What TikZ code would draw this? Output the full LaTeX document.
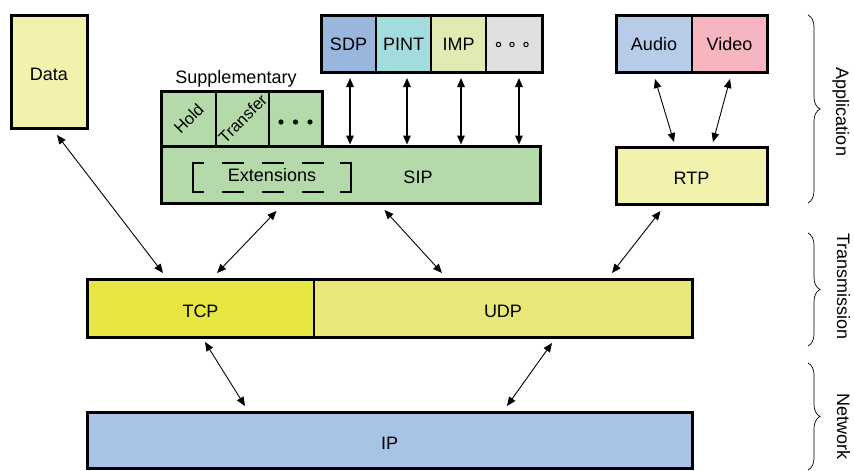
\documentclass[tikz,border=0pt]{standalone}
\usepackage{fontspec}
\setmainfont{Liberation Sans}
\usetikzlibrary{calc,arrows.meta,decorations.pathreplacing}
\definecolor{cData}{HTML}{F2F2AC}
\definecolor{cGreen}{HTML}{B4DAAA}
\definecolor{cSDP}{HTML}{99B6DD}
\definecolor{cPINT}{HTML}{A2DCDC}
\definecolor{cIMP}{HTML}{E0EAB2}
\definecolor{cGrey}{HTML}{E0E0E0}
\definecolor{cAudio}{HTML}{B7CCE8}
\definecolor{cVideo}{HTML}{F7B5C0}
\definecolor{cTCP}{HTML}{E8E642}
\definecolor{cUDP}{HTML}{E8E87A}
\definecolor{cIP}{HTML}{A7C3E5}
\begin{document}
\begin{tikzpicture}[x=1pt,y=-1pt,
  every node/.style={font=\fontsize{18}{21}\selectfont, inner sep=0pt, outer sep=0pt, text height=18pt, text depth=0pt},
  box/.style={draw, line width=3pt},
  cell/.style={draw, line width=1.5pt},
  topcell/.style={cell, text height=14pt},
  frame/.style={draw, line width=3pt},
  rot/.style={rotate=45, font=\fontsize{16.5}{19}\selectfont, text height=16.5pt},
  arr/.style={{Triangle[length=9pt,width=7.5pt]}-{Triangle[length=9pt,width=7.5pt]}, line width=0.9pt},
  varr/.style={arr, line width=1.4pt},
  brc/.style={decorate, decoration={brace, amplitude=12pt}, line width=0.7pt},
  side/.style={rotate=-90}
]
\useasboundingbox (0,0) rectangle (854,471);

% Data
\node[box, fill=cData, minimum width=76pt, minimum height=113pt] (Data) at (49,71.5) {Data};

% Supplementary
\node (supp) at (236,74.5) {Supplementary};
\node[cell, fill=cGreen, minimum width=55pt, minimum height=55pt] (Hold) at (188.5,118.5) {};
\node[cell, fill=cGreen, minimum width=53pt, minimum height=55pt] (Transfer) at (242.5,118.5) {};
\node[cell, fill=cGreen, minimum width=53pt, minimum height=55pt] (Sdots) at (295.5,118.5) {};
\draw[frame] (Hold.north west) rectangle (Sdots.south east);
\node[rot] (holdtxt) at ($(Hold.center)+(-1.5,-1.5)$) {Hold};
\node[rot] (transtxt) at ($(Transfer.center)+(-1.5,-1.5)$) {Transfer};
\foreach \dx in {-14.5,0,14.5} \fill ($(Sdots.center)+(\dx,3.5)$) circle (2.6pt);

% SIP
\node[box, fill=cGreen, minimum width=379pt, minimum height=57pt,
      label={[xshift=67.5pt]center:SIP}] (SIP) at (350.5,174.5) {};
\node[minimum width=158pt, minimum height=29pt, text height=8pt] (Ext) at (272,177.5) {Extensions};
\draw[line width=2pt] ($(Ext.north west)+(11,0)$) -| (Ext.south west) -- ++(11,0);
\draw[line width=2pt] ($(Ext.north east)+(-11,0)$) -| (Ext.south east) -- ++(-11,0);
\draw[line width=2pt, dash pattern=on 22pt off 18pt] ($(Ext.north west)+(29,0)$) -- ($(Ext.north east)+(-18,0)$);
\draw[line width=2pt, dash pattern=on 22pt off 18pt] ($(Ext.south west)+(29,0)$) -- ($(Ext.south east)+(-18,0)$);

% SDP group
\node[topcell, fill=cSDP, minimum width=55pt, minimum height=57pt] (SDP) at (348.5,43.5) {SDP};
\node[topcell, fill=cPINT, minimum width=55pt, minimum height=57pt] (PINT) at (403.5,43.5) {PINT};
\node[topcell, fill=cIMP, minimum width=55pt, minimum height=57pt] (IMP) at (458.5,43.5) {IMP};
\node[topcell, fill=cGrey, minimum width=56pt, minimum height=57pt] (More) at (514,43.5) {};
\draw[frame] (SDP.north west) rectangle (More.south east);
\foreach \dx in {-15.5,-2,12} \draw[line width=1pt] ($(More.center)+(\dx,1)$) circle (2.2pt);

% Audio / Video / RTP
\node[topcell, fill=cAudio, minimum width=76pt, minimum height=57pt] (Audio) at (654,43.5) {Audio};
\node[topcell, fill=cVideo, minimum width=75pt, minimum height=57pt] (Video) at (729.5,43.5) {Video};
\draw[frame] (Audio.north west) rectangle (Video.south east);
\node[box, fill=cData, minimum width=151pt, minimum height=57pt] (RTP) at (691.5,175.5) {RTP};

% TCP / UDP
\node[cell, fill=cTCP, minimum width=227pt, minimum height=58pt] (TCP) at (200.5,308) {TCP};
\node[cell, fill=cUDP, minimum width=378pt, minimum height=58pt] (UDP) at (503,308) {UDP};
\draw[frame] (TCP.north west) rectangle (UDP.south east);

% IP
\node[box, fill=cIP, minimum width=605pt, minimum height=56pt] (IP) at (389.5,440) {IP};

% vertical arrows
\draw[varr] ($(SDP.south)+(1.5,6)$) -- ($(SDP.south |- SIP.north)+(1.5,-1.5)$);
\draw[varr] ($(PINT.south)+(3.5,6)$) -- ($(PINT.south |- SIP.north)+(3.5,-1.5)$);
\draw[varr] ($(IMP.south)+(2.5,6)$) -- ($(IMP.south |- SIP.north)+(2.5,-1.5)$);
\draw[varr] ($(More.south)+(5,6)$) -- ($(More.south |- SIP.north)+(5,-1.5)$);

% diagonal arrows
\draw[arr] ($(Data.south)+(8,7)$) -- ($(TCP.north)+(-37.5,-6)$);
\draw[arr] ($(SIP.south)+(-74,8)$) -- ($(TCP.north)+(16.5,-6)$);
\draw[arr] ($(SIP.south)+(34,7)$) -- ($(UDP.north)+(-61,-6)$);
\draw[arr] ($(RTP.south)+(-31,7)$) -- ($(UDP.north)+(109,-6)$);
\draw[arr] ($(TCP.south)+(4.5,5)$) -- ($(IP.north)+(-144.5,-6)$);
\draw[arr] ($(UDP.south)+(49,6)$) -- ($(IP.north)+(117.5,-6)$);
\draw[arr] ($(Audio.south)+(1,7)$) -- ($(RTP.north)+(-17.5,-5)$);
\draw[arr] ($(Video.south)+(0.5,7)$) -- ($(RTP.north)+(21.5,-5)$);

% braces
\draw[brc] (808,15) -- (808,203);
\draw[brc] (808,233) -- (808,346);
\draw[brc] (808,363) -- (808,470);
\node[side] (app) at (845,112) {Application};
\node[side] (trans) at (846,286.5) {Transmission};
\node[side] (net) at (846,426.5) {Network};
\end{tikzpicture}
\end{document}
